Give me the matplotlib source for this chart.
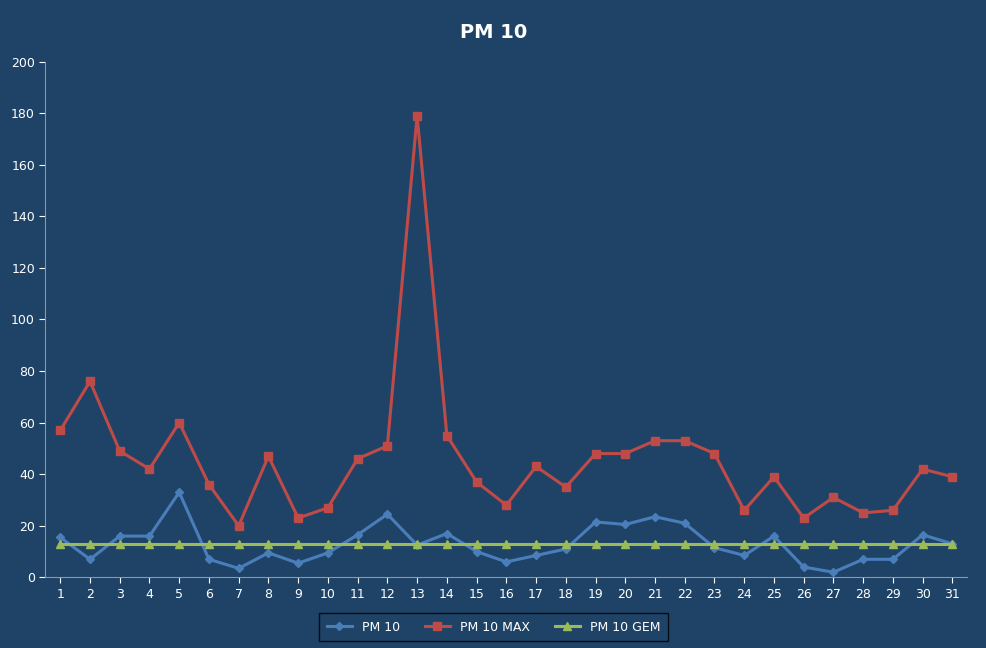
import matplotlib
matplotlib.use("Agg")
import matplotlib.pyplot as plt

days = list(range(1, 32))
pm10 = [15.5, 7, 16, 16, 33, 7, 3.5, 9.5, 5.5, 9.5, 16.5, 24.5, 12.5, 17, 10, 6, 8.5, 11,
        21.5, 20.5, 23.5, 21, 11.5, 8.5, 16, 4, 2, 7, 7, 16.5, 13]
pm10_max = [57, 76, 49, 42, 60, 36, 20, 47, 23, 27, 46, 51, 179, 55, 37, 28, 43, 35,
            48, 48, 53, 53, 48, 26, 39, 23, 31, 25, 26, 42, 39]
pm10_gem = [13] * 31

bg = "#1F4366"
fig = plt.figure(figsize=(9.87, 6.48), dpi=100, facecolor=bg)
ax = fig.add_axes([0.046, 0.109, 0.934, 0.796], facecolor=bg)

ax.plot(days, pm10, color="#4A7EBB", marker="D", markersize=4, lw=2.2, label="PM 10")
ax.plot(days, pm10_max, color="#BE4B48", marker="s", markersize=6, lw=2.2, label="PM 10 MAX")
ax.plot(days, pm10_gem, color="#9BBB59", marker="^", markersize=6, lw=2.2, label="PM 10 GEM")

ax.set_xlim(0.5, 31.5)
ax.set_ylim(0, 200)
ax.set_xticks(days)
ax.set_yticks(range(0, 201, 20))
ax.tick_params(colors="white", labelsize=9, length=4)
for s in ["top", "right"]:
    ax.spines[s].set_visible(False)
for s in ["left", "bottom"]:
    ax.spines[s].set_color("#8899AA")

fig.suptitle("PM 10", color="white", fontsize=14, fontweight="bold", y=0.965)
leg = fig.legend(loc="lower center", ncol=3, bbox_to_anchor=(0.5, 0.005), frameon=True,
                 fontsize=9, labelcolor="white")
leg.get_frame().set_facecolor(bg)
leg.get_frame().set_edgecolor("black")
leg.get_frame().set_boxstyle("square", pad=0.2)

fig.savefig("out.png", dpi=100, facecolor=bg)
